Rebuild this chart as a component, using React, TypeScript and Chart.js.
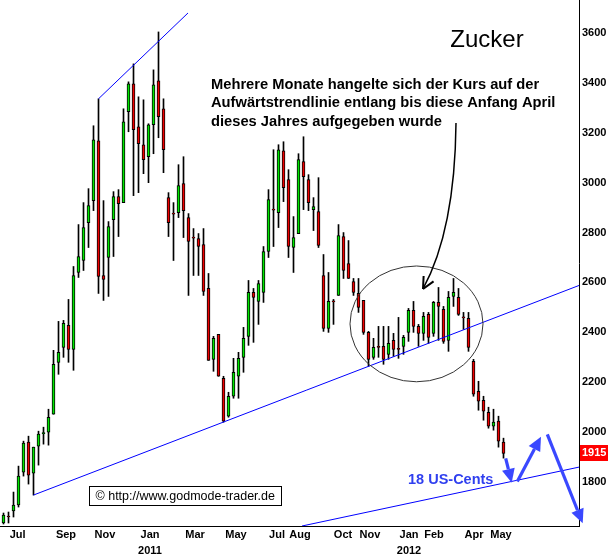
import React, { useEffect, useRef } from "react";
import { Chart, registerables } from "chart.js";

Chart.register(...registerables);

// Weekly candles, Zucker (sugar), Jun 2010 – May 2012
const opens = [1636,1664,1684,1708,1840,1960,1836,1944,1994,2000,2072,2280,2340,2428,2332,2640,2688,2840,2928,3168,2628,2700,2852,2944,2920,3284,3396,3224,3152,3104,3232,3408,3296,2940,2878,2880,2996,2860,2782,2776,2752,2576,2292,2392,2216,2064,2144,2224,2300,2384,2560,2524,2560,2724,2894,2880,3128,3012,2740,2796,3084,3012,2892,2884,2628,2416,2526,2548,2784,2676,2604,2556,2528,2400,2300,2344,2344,2312,2368,2336,2344,2400,2488,2424,2396,2472,2396,2520,2492,2368,2544,2540,2462,2456,2284,2164,2128,2080,2024,2044,1960];
const highs = [1676,1680,1760,1864,1964,1984,1940,2004,2020,2092,2328,2444,2448,2532,2664,2832,2920,2976,3228,3336,2928,2844,2964,2972,3296,3404,3476,3344,3332,3236,3452,3604,3336,2960,2920,3072,3104,2876,2816,2796,2816,2636,2384,2392,2224,2160,2296,2320,2420,2608,2576,2608,2744,2972,3132,3152,3164,3052,2864,3116,3184,3032,2940,3020,2712,2640,2532,2832,2800,2768,2616,2616,2528,2404,2376,2424,2424,2424,2396,2460,2388,2496,2524,2432,2480,2480,2524,2580,2504,2564,2616,2576,2480,2480,2292,2204,2144,2100,2092,2064,1976];
const lows = [1632,1636,1660,1700,1824,1792,1748,1868,1952,1948,2072,2232,2300,2280,2248,2620,2648,2740,2888,2556,2528,2544,2704,2784,2920,3204,2948,2960,3036,3000,3116,3180,3040,2784,2688,2860,2780,2548,2628,2628,2548,2288,2244,2224,2040,2060,2136,2136,2240,2348,2360,2432,2520,2700,2744,2820,2924,2700,2640,2796,2892,2888,2808,2740,2404,2400,2432,2548,2616,2616,2548,2480,2392,2264,2292,2300,2272,2292,2304,2296,2312,2364,2400,2344,2368,2356,2384,2368,2356,2324,2504,2468,2412,2324,2144,2088,2048,2016,2008,1940,1896];
const closes = [1668,1660,1708,1824,1956,1828,1940,1992,1998,2060,2272,2320,2436,2332,2628,2704,2820,2908,3172,2624,2612,2824,2944,2916,3244,3396,3212,3156,3092,3232,3392,3264,3132,2840,2874,2988,2888,2764,2778,2744,2564,2288,2376,2224,2044,2144,2240,2296,2376,2560,2540,2596,2724,2932,2890,3132,2980,2744,2780,3092,3024,2920,2904,2748,2416,2524,2522,2788,2648,2616,2560,2500,2400,2292,2340,2340,2292,2356,2332,2332,2380,2488,2424,2396,2464,2380,2520,2504,2364,2540,2560,2472,2458,2340,2152,2124,2084,2024,2040,1964,1915];

const lastPrice = 1915;

// x-axis: week index of month labels
const monthTickWeeks = [2.84, 12.5, 20.3, 29.3, 38.3, 46.5, 54.7, 59.3, 67.9, 73.3, 81.1, 86.1, 94.1, 99.5];
const monthTickLabels: (string | string[])[] = ["Jul", "Sep", "Nov", ["Jan", "2011"], "Mar", "May", "Jul", "Aug", "Oct", "Nov", ["Jan", "2012"], "Feb", "Apr", "May"];
const priceTicks = [1800, 2000, 2200, 2400, 2600, 2800, 3000, 3200, 3400, 3600];

// trend lines (week index, price)
const upperTrend = [{ x: 19, y: 3336 }, { x: 36.9, y: 3680 }];
const lowerTrend = [{ x: 6, y: 1748 }, { x: 115.1, y: 2588 }];
const bottomTrend = [{ x: 59.7, y: 1624 }, { x: 115.1, y: 1860 }];

// annotations in (week index, price)
const circle = { cx: 82.6, cy: 2434, rx: 13.3, ry: 232 };
const blackArrow = [[90.5, 3239], [90.3, 2810], [83.9, 2574]];
const blueArrows = [
  [[100.44, 1895], [101.64, 1797]],
  [[102.76, 1802], [107.5, 1982]],
  [[108.76, 1991], [115.84, 1635]],
];
const titleText = { text: "Zucker", x: 96.7, y: 3572 };
const noteLines = [
  "Mehrere Monate hangelte sich der Kurs auf der",
  "Aufwärtstrendlinie entlang bis diese Anfang April",
  "dieses Jahres aufgegeben wurde",
];
const notePos = { x: 41.5, y: 3391 };
const targetText = { text: "18 US-Cents", x: 80.9, y: 1808 };
const copyright = { text: "© http://www.godmode-trader.de", x0: 17.1, x1: 55.5, y0: 1784, y1: 1708 };

const GREEN = "#00e600";
const RED = "#ee0000";
const BLUE_ARROW = "#3a48ff";
const FONT = '"Liberation Sans", Arial, Helvetica, sans-serif';

function drawHead(ctx: CanvasRenderingContext2D, x0: number, y0: number, x1: number, y1: number, len: number, half: number) {
  const a = Math.atan2(y1 - y0, x1 - x0);
  const bx = x1 - len * Math.cos(a);
  const by = y1 - len * Math.sin(a);
  ctx.beginPath();
  ctx.moveTo(x1, y1);
  ctx.lineTo(bx + half * Math.sin(a), by - half * Math.cos(a));
  ctx.lineTo(bx - half * Math.sin(a), by + half * Math.cos(a));
  ctx.closePath();
  ctx.fill();
  return [bx, by];
}

const annotationPlugin = {
  id: "annotations",
  afterDraw(chart: any) {
    const { ctx } = chart;
    const xs = chart.scales.x;
    const ys = chart.scales.y;
    const px = (v: number) => xs.getPixelForValue(v);
    const py = (v: number) => ys.getPixelForValue(v);
    ctx.save();

    // ellipse
    const cx = px(circle.cx), cy = py(circle.cy);
    const rx = Math.abs(px(circle.cx + circle.rx) - cx);
    const ry = Math.abs(py(circle.cy + circle.ry) - cy);
    ctx.strokeStyle = "#333333";
    ctx.lineWidth = 1;
    ctx.beginPath();
    ctx.ellipse(cx, cy, rx, ry, 0, 0, Math.PI * 2);
    ctx.stroke();

    // black curved arrow
    const [p0, p1, p2] = blackArrow.map(([a, b]) => [px(a), py(b)]);
    ctx.strokeStyle = "#000";
    ctx.lineWidth = 1.5;
    ctx.beginPath();
    ctx.moveTo(p0[0], p0[1]);
    ctx.quadraticCurveTo(p1[0], p1[1], p2[0], p2[1]);
    ctx.stroke();
    const ang = Math.atan2(p2[1] - p1[1], p2[0] - p1[0]);
    ctx.lineWidth = 2;
    ctx.beginPath();
    for (const s of [-1, 1]) {
      const a2 = ang + Math.PI + s * 0.45;
      ctx.moveTo(p2[0], p2[1]);
      ctx.lineTo(p2[0] + 13 * Math.cos(a2), p2[1] + 13 * Math.sin(a2));
    }
    ctx.stroke();

    // blue arrows
    ctx.strokeStyle = BLUE_ARROW;
    ctx.fillStyle = BLUE_ARROW;
    ctx.lineWidth = 3.2;
    for (const [[a0, b0], [a1, b1]] of blueArrows) {
      const x0 = px(a0), y0 = py(b0), x1 = px(a1), y1 = py(b1);
      const [bx, by] = drawHead(ctx, x0, y0, x1, y1, 14, 6.5);
      ctx.beginPath();
      ctx.moveTo(x0, y0);
      ctx.lineTo(bx, by);
      ctx.stroke();
    }

    // texts
    ctx.textBaseline = "middle";
    ctx.fillStyle = "#000";
    ctx.font = `24px ${FONT}`;
    ctx.textAlign = "center";
    ctx.fillText(titleText.text, px(titleText.x), py(titleText.y));

    ctx.textAlign = "left";
    ctx.font = `bold 14.7px ${FONT}`;
    noteLines.forEach((l, i) => ctx.fillText(l, px(notePos.x), py(notePos.y) + i * 18.3));

    ctx.fillStyle = "#2f3fef";
    ctx.font = `bold 14.5px ${FONT}`;
    ctx.fillText(targetText.text, px(targetText.x), py(targetText.y));

    // copyright box
    const bx0 = Math.round(px(copyright.x0)) + 0.5, bx1 = Math.round(px(copyright.x1)) + 0.5;
    const by0 = Math.round(py(copyright.y0)) + 0.5, by1 = Math.round(py(copyright.y1)) + 0.5;
    ctx.fillStyle = "#fff";
    ctx.fillRect(bx0, by0, bx1 - bx0, by1 - by0);
    ctx.strokeStyle = "#000";
    ctx.lineWidth = 1;
    ctx.strokeRect(bx0, by0, bx1 - bx0, by1 - by0);
    ctx.fillStyle = "#000";
    ctx.font = `12.5px ${FONT}`;
    ctx.fillText(copyright.text, bx0 + 6, (by0 + by1) / 2 + 0.5);

    // last price tag
    const ly = py(lastPrice);
    const right = chart.chartArea.right;
    ctx.fillStyle = "#ff0000";
    ctx.fillRect(right + 1, Math.round(ly - 8), 28, 16);
    ctx.fillStyle = "#fff";
    ctx.font = `bold 11px ${FONT}`;
    ctx.fillText(String(lastPrice), right + 3, ly);

    ctx.restore();
  },
};

export default function App() {
  const ref = useRef<HTMLCanvasElement | null>(null);

  useEffect(() => {
    if (!ref.current) return;
    Chart.defaults.font.family = FONT;
    const idx = opens.map((_, i) => i);
    const wickData = idx.map((i) => ({ x: i, y: [lows[i], highs[i]] }));
    const bodyData = idx.map((i) => ({ x: i, y: [opens[i], closes[i]] }));
    const bodyColors = idx.map((i) => (closes[i] >= opens[i] ? GREEN : RED));

    const chart = new Chart(ref.current, {
      type: "bar",
      data: {
        datasets: [
          {
            type: "line",
            data: upperTrend,
            borderColor: "#0000ff",
            borderWidth: 1,
            pointRadius: 0,
            order: 0,
          } as any,
          {
            type: "line",
            data: lowerTrend,
            borderColor: "#0000ff",
            borderWidth: 1,
            pointRadius: 0,
            order: 0,
          } as any,
          {
            type: "line",
            data: bottomTrend,
            borderColor: "#0000ff",
            borderWidth: 1,
            pointRadius: 0,
            order: 0,
          } as any,
          {
            data: bodyData as any,
            backgroundColor: bodyColors,
            borderColor: "#000",
            borderWidth: 1,
            borderSkipped: false,
            barThickness: 3,
            grouped: false,
            order: 1,
          },
          {
            data: wickData as any,
            backgroundColor: "#000",
            borderWidth: 0,
            barThickness: 1,
            grouped: false,
            order: 2,
          },
        ],
      },
      options: {
        responsive: false,
        animation: false,
        devicePixelRatio: 1,
        layout: { padding: 0 },
        plugins: { legend: { display: false }, tooltip: { enabled: false } },
        scales: {
          x: {
            type: "linear",
            min: -0.7,
            max: 115.1,
            offset: false,
            grid: { display: false, drawTicks: false },
            border: { display: true, color: "#000", width: 1 },
            afterBuildTicks: (s: any) => {
              s.ticks = monthTickWeeks.map((v) => ({ value: v }));
            },
            afterFit: (s: any) => {
              s.height = 33;
              s.paddingLeft = 0;
              s.paddingRight = 0;
            },
            ticks: {
              autoSkip: false,
              maxRotation: 0,
              minRotation: 0,
              padding: 1,
              color: "#000",
              font: { size: 11, weight: "bold", lineHeight: "16px" },
              callback: (_v: any, i: number) => monthTickLabels[i],
            },
          } as any,
          y: {
            type: "linear",
            position: "right",
            min: 1624,
            max: 3732,
            grid: { display: false, drawTicks: false },
            border: { display: true, color: "#000", width: 1 },
            afterBuildTicks: (s: any) => {
              s.ticks = priceTicks.map((v) => ({ value: v }));
            },
            afterFit: (s: any) => {
              s.width = 32;
              s.paddingTop = 0;
              s.paddingBottom = 0;
            },
            ticks: {
              padding: 3,
              color: "#000",
              font: { size: 11, weight: "bold" },
              callback: (v: any) => String(v),
            },
          } as any,
        },
      },
      plugins: [annotationPlugin],
    });
    return () => chart.destroy();
  }, []);

  return (
    <div style={{ position: "absolute", left: 0, top: 0, width: 611, height: 559, background: "#fff" }}>
      <canvas ref={ref} width={611} height={559} style={{ display: "block" }} />
    </div>
  );
}
